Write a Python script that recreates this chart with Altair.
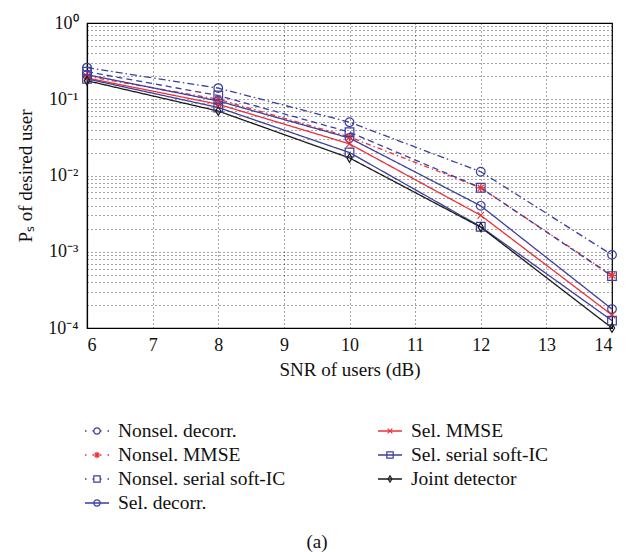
import altair as alt
import pandas as pd

# ---- data ----
snr = [6, 8, 10, 12, 14]
series_names = [
    "Nonsel. decorr.",
    "Nonsel. MMSE",
    "Nonsel. serial soft-IC",
    "Sel. decorr.",
    "Sel. MMSE",
    "Sel. serial soft-IC",
    "Joint detector",
]
nonsel_decorr = [0.26, 0.14, 0.050, 0.0112, 0.00091]
nonsel_mmse = [0.20, 0.100, 0.032, 0.0069, 0.00049]
nonsel_serial = [0.23, 0.112, 0.037, 0.0069, 0.00048]
sel_decorr = [0.21, 0.095, 0.031, 0.0040, 0.000177]
sel_mmse = [0.19, 0.086, 0.026, 0.0030, 0.000148]
sel_serial = [0.185, 0.078, 0.020, 0.00213, 0.000125]
joint = [0.175, 0.070, 0.017, 0.00210, 0.000100]
all_values = [nonsel_decorr, nonsel_mmse, nonsel_serial, sel_decorr, sel_mmse, sel_serial, joint]

legend_col = [0, 0, 0, 0, 1, 1, 1]
legend_row = [0, 1, 2, 3, 0, 1, 2]

y_ticks = [k * 10.0 ** e for e in range(-4, 0) for k in range(1, 10)] + [1.0]

# ---- styling ----
BLUE = "#3b3f9e"
RED = "#ec3037"
BLACK = "#1a1a1a"
colors = [BLUE, RED, BLUE, BLUE, RED, BLUE, BLACK]
dashes = [[7, 3, 1.5, 3], [5, 3, 1.5, 3], [6, 4], [1, 0], [1, 0], [1, 0], [1, 0]]
legend_dashes = [[1.5, 6], [1.5, 6], [1.5, 6], [1, 0], [1, 0], [1, 0], [1, 0]]
asterisk = "M-1,0L1,0M0,-1L0,1M-0.7,-0.7L0.7,0.7M-0.7,0.7L0.7,-0.7"
xcross = "M-0.75,-0.75L0.75,0.75M-0.75,0.75L0.75,-0.75"
diamond = "M0,-1L0.6,0L0,1L-0.6,0Z"
shapes = ["circle", asterisk, "square", "circle", xcross, "square", diamond]

FONT = "Liberation Serif"

rows = []
for name, vals in zip(series_names, all_values):
    for x, v in zip(snr, vals):
        rows.append({"series": name, "snr": x, "ps": v})
df = pd.DataFrame(rows)

leg_df = pd.DataFrame({"series": series_names, "lx": legend_col, "ly": legend_row})

color_enc = alt.Color("series:N", scale=alt.Scale(domain=series_names, range=colors), legend=None)
dash_enc = alt.StrokeDash("series:N", scale=alt.Scale(domain=series_names, range=dashes), legend=None)
leg_dash_enc = alt.StrokeDash("series:N", scale=alt.Scale(domain=series_names, range=legend_dashes), legend=None)
shape_enc = alt.Shape("series:N", scale=alt.Scale(domain=series_names, range=shapes), legend=None)

log10 = "(log(datum.value)/LN10)"
label_expr = (
    f"abs({log10} - round({log10})) > 0.001 ? '' : "
    f"(round({log10}) == 0 ? '10⁰' : round({log10}) == -1 ? '10⁻¹' : "
    f"round({log10}) == -2 ? '10⁻²' : round({log10}) == -3 ? '10⁻³' : '10⁻⁴')"
)

axis_common = dict(
    labelFont=FONT,
    titleFont=FONT,
    labelColor="#111",
    titleColor="#111",
    titleFontWeight="normal",
    labelFontSize=18,
    titleFontSize=19,
    domainColor="#000",
    domainWidth=1.2,
    grid=True,
    gridDash=[1, 3],
    gridColor="#000",
    gridOpacity=0.8,
    gridWidth=0.9,
    ticks=False,
)

x_enc = alt.X(
    "snr:Q",
    scale=alt.Scale(domain=[6, 14], nice=False, zero=False),
    axis=alt.Axis(
        values=list(range(6, 15)),
        format="d",
        title="SNR of users (dB)",
        labelPadding=8,
        titlePadding=6,
        **axis_common,
    ),
)
y_enc = alt.Y(
    "ps:Q",
    scale=alt.Scale(type="log", domain=[1e-4, 1], nice=False),
    axis=alt.Axis(
        values=y_ticks,
        labelExpr=label_expr,
        labelOverlap=False,
        title="Pₛ of desired user",
        labelPadding=9,
        titlePadding=12,
        **axis_common,
    ),
)

base = alt.Chart(df)
lines = base.mark_line(strokeWidth=1.3).encode(x=x_enc, y=y_enc, color=color_enc, strokeDash=dash_enc, detail="series:N")
points = base.mark_point(filled=False, size=75, strokeWidth=1.2, opacity=1).encode(
    x="snr:Q", y="ps:Q", color=color_enc, shape=shape_enc
)
main = alt.layer(lines, points)

lx_enc = alt.X("lx:Q", scale=alt.Scale(domain=[0, 1], range=[10, 303]), axis=None)
ly_enc = alt.Y("ly:Q", scale=alt.Scale(domain=[0, 3], range=[408, 480]), axis=None)
lbase = alt.Chart(leg_df)
leg_rule = lbase.mark_rule(xOffset=-12, x2Offset=12, strokeWidth=1.3).encode(
    x=lx_enc, x2="lx:Q", y=ly_enc, color=color_enc, strokeDash=leg_dash_enc
)
leg_pts = lbase.mark_point(filled=False, size=40, strokeWidth=1.2, opacity=1).encode(
    x="lx:Q", y="ly:Q", color=color_enc, shape=shape_enc
)
leg_text = lbase.mark_text(align="left", baseline="middle", dx=21, fontSize=19.5, font=FONT, color="#111").encode(
    x="lx:Q", y="ly:Q", text="series:N"
)
caption = alt.Chart(pd.DataFrame({"t": ["(a)"]})).mark_text(
    fontSize=19, font=FONT, color="#111"
).encode(x=alt.value(230), y=alt.value(519), text="t:N")
legend = alt.layer(leg_rule, leg_pts, leg_text, caption)

chart = (
    alt.layer(main, legend)
    .resolve_scale(x="independent", y="independent", strokeDash="independent")
    .properties(
        width=525,
        height=305,
        autosize=alt.AutoSizeParams(type="none"),
        padding={"left": 87, "top": 23, "right": 22, "bottom": 224},
        background="white",
    )
    .configure_view(stroke="#000", strokeWidth=1.2)
)

chart.save("out.html", embed_options={"renderer": "svg", "actions": False})
